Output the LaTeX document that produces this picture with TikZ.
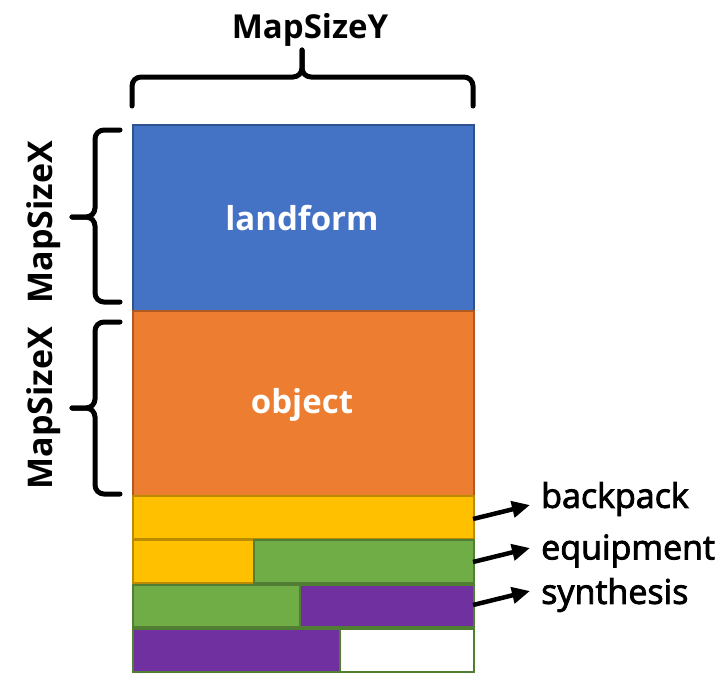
\documentclass[tikz,border=0pt]{standalone}
\usepackage{fontspec}
\setmainfont{Open Sans}
\newfontfamily\semifont[FakeBold=2.5]{Open Sans}
\usetikzlibrary{arrows.meta}
\definecolor{cblue}{HTML}{4472C4}
\definecolor{cblueb}{HTML}{2F528F}
\definecolor{corange}{HTML}{ED7D31}
\definecolor{corangeb}{HTML}{AE5A21}
\definecolor{cyellow}{HTML}{FFC000}
\definecolor{cyellowb}{HTML}{BC8C00}
\definecolor{cgreen}{HTML}{70AD47}
\definecolor{cgreenb}{HTML}{507E32}
\definecolor{cpurple}{HTML}{7030A0}
\tikzset{
  box/.style={draw, line width=1.5pt, inner sep=0pt, anchor=north west},
  brace/.style={line width=5pt, rounded corners=9pt, line cap=round},
  bigtxt/.style={font=\fontsize{33}{36}\selectfont\bfseries},
  sizetxt/.style={font=\fontsize{34}{36}\selectfont\bfseries},
  sidetxt/.style={font=\fontsize{34}{36}\selectfont\semifont, anchor=west, inner sep=0pt},
  pointer/.style={line width=4.5pt, -{Triangle[length=18pt,width=16pt]}},
}
\begin{document}
\begin{tikzpicture}[x=1pt,y=-1pt]
\useasboundingbox (0,0) rectangle (727,693);
% main blocks
\node[box, fill=cblue, draw=cblueb, minimum width=341pt, minimum height=186pt] (land) at (132,124) {};
\node[box, fill=corange, draw=corangeb, minimum width=341pt, minimum height=185pt] (obj) at (132,310) {};
\node[bigtxt, text=white] (landt) at (302,218) {landform};
\node[bigtxt, text=white] (objt) at (302,405) {object};
% row 1
\node[box, fill=cyellow, draw=cyellowb, minimum width=341pt, minimum height=43pt] (r1) at (132,495) {};
% row 2
\node[box, fill=cyellow, draw=cyellowb, minimum width=121pt, minimum height=43pt] (r2a) at (132,539) {};
\node[box, fill=cgreen, draw=cgreenb, minimum width=220pt, minimum height=43pt] (r2b) at (253,539) {};
% row 3
\node[box, fill=cgreen, draw=cgreenb, minimum width=167pt, minimum height=42pt] (r3a) at (132,584) {};
\node[box, fill=cpurple, draw=cgreenb, minimum width=174pt, minimum height=42pt] (r3b) at (299,584) {};
% row 4
\node[box, fill=cpurple, draw=cgreenb, minimum width=207pt, minimum height=43pt] (r4a) at (132,628) {};
\node[box, fill=white, draw=cgreenb, minimum width=134pt, minimum height=43pt] (r4b) at (339,628) {};
% top brace
\draw[brace] (132,106) -- (132,77) -- (302,77) -- (302,50);
\draw[brace] (302,50) -- (302,77) -- (473,77) -- (473,106);
\node[bigtxt] (msy) at (310,30) {MapSizeY};
% left braces
\draw[brace] (120,130) -- (95,130) -- (95,217) -- (72,217);
\draw[brace] (72,217) -- (95,217) -- (95,302) -- (120,302);
\draw[brace] (120,322) -- (95,322) -- (95,408) -- (72,408);
\draw[brace] (72,408) -- (95,408) -- (95,494) -- (120,494);
\node[sizetxt, rotate=90] (msx1) at (44,222) {MapSizeX};
\node[sizetxt, rotate=90] (msx2) at (44,408) {MapSizeX};
% labels
\node[sidetxt] (lbp) at (541,499) {backpack};
\node[sidetxt] (leq) at (541,551) {equipment};
\node[sidetxt] (lsy) at (541,595) {synthesis};
\coordinate (a1) at (473,519);
\coordinate (a2) at (473,562);
\coordinate (a3) at (473,605);
\coordinate (t1) at (530,505);
\coordinate (t2) at (530,548);
\coordinate (t3) at (530,591);
\draw[pointer] (a1) -- (t1);
\draw[pointer] (a2) -- (t2);
\draw[pointer] (a3) -- (t3);
\end{tikzpicture}
\end{document}
